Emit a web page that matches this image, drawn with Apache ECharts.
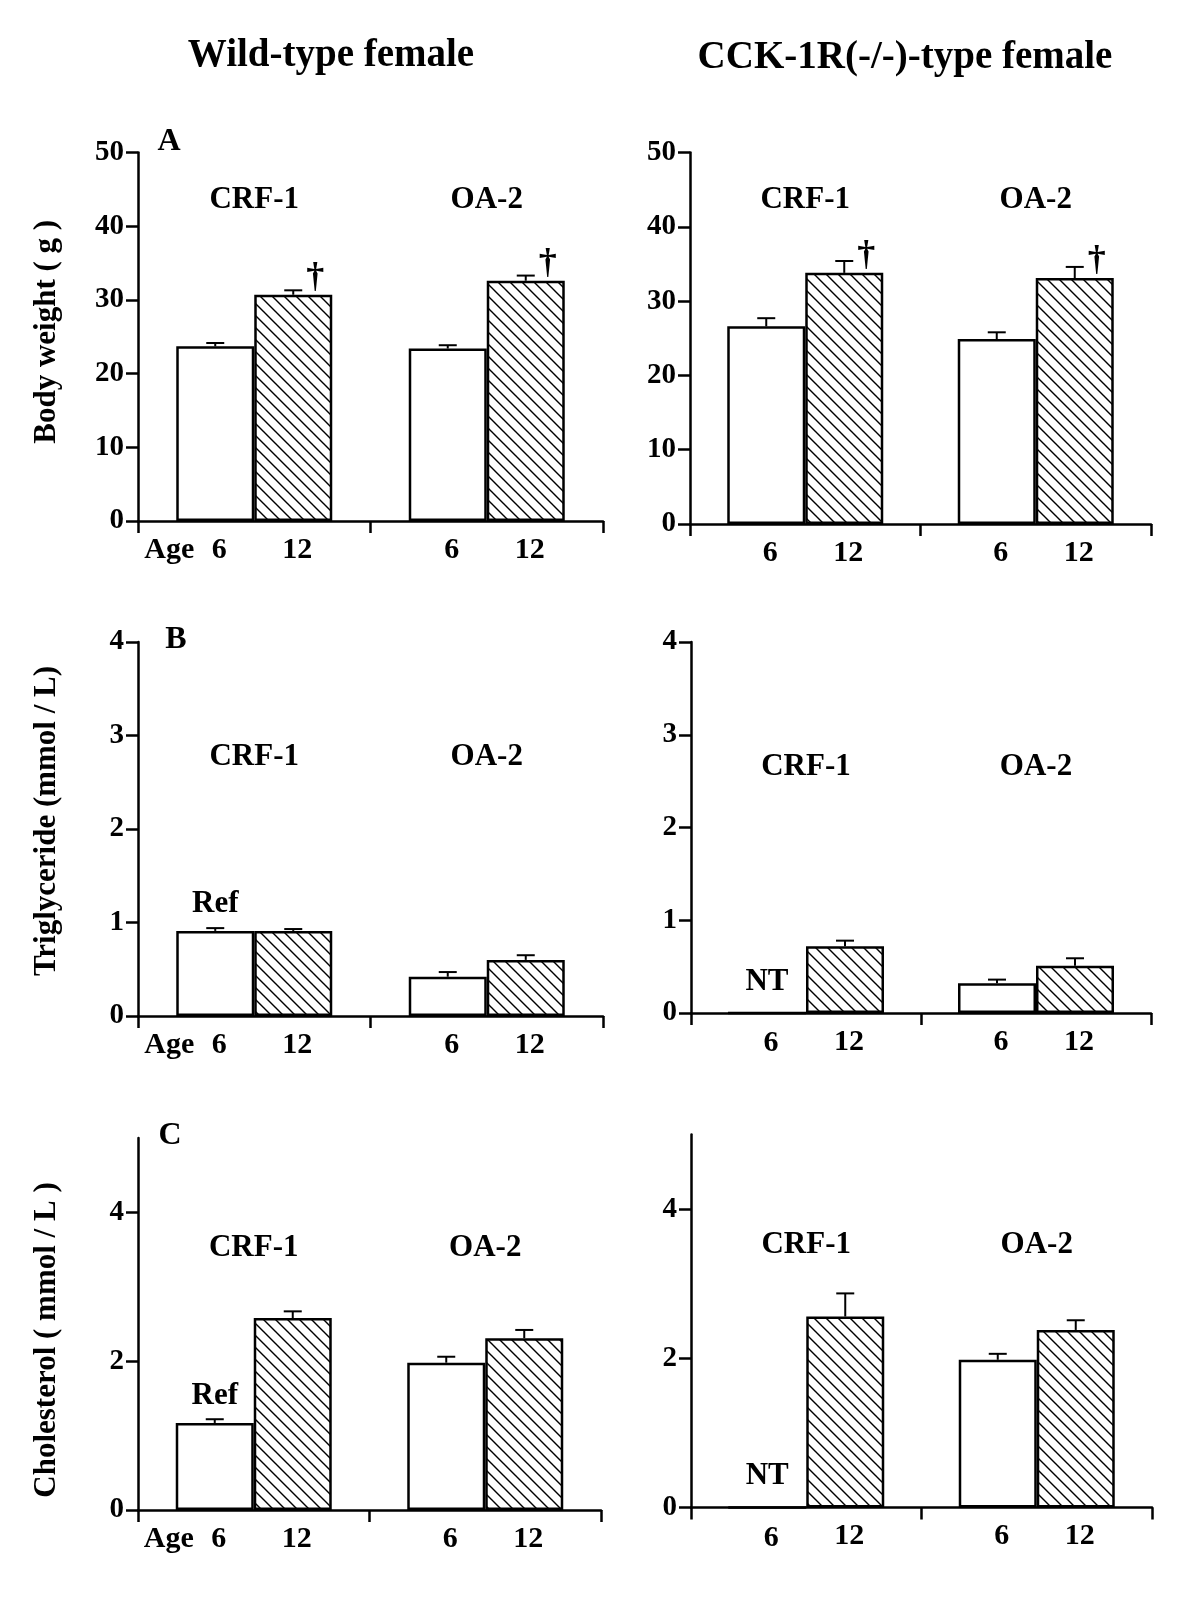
<!DOCTYPE html>
<html>
<head>
<meta charset="utf-8">
<script src="https://cdn.jsdelivr.net/npm/echarts@6/dist/echarts.min.js"></script>
<style>
html, body { margin: 0; padding: 0; background: #fff; }
#chart { width: 1200px; height: 1604px; }
</style>
</head>
<body>
<div id="chart"></div>
<script>
// groups on the x axis and the two ages (weeks) shown under the bars
const groups = ['CRF-1', 'OA-2'];
const ageLabels = ['6', '12'];

// A - body weight (g), mean and SEM
const bwWild6 = [23.7, 23.4];
const bwWild6Sem = [0.45, 0.45];
const bwWild12 = [30.7, 32.6];
const bwWild12Sem = [0.6, 0.7];
const bwKO6 = [26.6, 24.9];
const bwKO6Sem = [1.1, 0.9];
const bwKO12 = [33.8, 33.1];
const bwKO12Sem = [1.6, 1.5];

// B - triglyceride (mmol/L)
const tgWild6 = [0.91, 0.42];
const tgWild6Sem = [0.03, 0.05];
const tgWild12 = [0.91, 0.60];
const tgWild12Sem = [0.02, 0.05];
const tgKO6 = [0, 0.32];          // CRF-1 not tested
const tgKO6Sem = [0, 0.04];
const tgKO12 = [0.72, 0.51];
const tgKO12Sem = [0.06, 0.08];

// C - cholesterol (mmol/L)
const chWild6 = [1.17, 1.98];
const chWild6Sem = [0.05, 0.08];
const chWild12 = [2.58, 2.31];
const chWild12Sem = [0.09, 0.11];
const chKO6 = [0, 1.98];          // CRF-1 not tested
const chKO6Sem = [0, 0.08];
const chKO12 = [2.56, 2.38];
const chKO12Sem = [0.31, 0.13];

// notes over the bars
const noNotes = ['', ''];
const daggers = ['†', '†'];
const refNotes = ['Ref', ''];
const ntNotes = ['NT', ''];

// y tick values
const bwTicks = [0, 10, 20, 30, 40, 50];
const tgTicks = [0, 1, 2, 3, 4];
const chTicks = [0, 2, 4];

const FONT = '"Liberation Serif", "Times New Roman", serif';
const BAR_W = 78;

function hatch() {
  const n = 12;
  const c = document.createElement('canvas');
  c.width = n; c.height = n;
  const g = c.getContext('2d');
  g.fillStyle = '#fff';
  g.fillRect(0, 0, n, n);
  g.strokeStyle = '#000';
  g.lineWidth = 1.4;
  g.beginPath();
  g.moveTo(-2, -2); g.lineTo(n + 2, n + 2);
  g.moveTo(-n - 2, -2); g.lineTo(2, n + 2);
  g.moveTo(-2, -n - 2); g.lineTo(n + 2, 2);
  g.stroke();
  return c;
}
const hatchFill = { image: hatch(), repeat: 'repeat' };

const panels = [
  { grid: { left: 138, top: 152.5, width: 465, height: 368.5 }, max: 50, ticks: bwTicks,
    name: 'Body weight ( g )', namePad: [0, 0, 0, 10], age: true, catMargin: 306,
    v6: bwWild6, s6: bwWild6Sem, n6: noNotes, v12: bwWild12, s12: bwWild12Sem, n12: daggers },
  { grid: { left: 690, top: 152.5, width: 461, height: 371.5 }, max: 50, ticks: bwTicks,
    name: '', namePad: 0, age: false, catMargin: 309,
    v6: bwKO6, s6: bwKO6Sem, n6: noNotes, v12: bwKO12, s12: bwKO12Sem, n12: daggers },
  { grid: { left: 138, top: 642, width: 465, height: 374 }, max: 4, ticks: tgTicks,
    name: 'Triglyceride (mmol / L)', namePad: [0, 0, 0, 16], age: true, catMargin: 244,
    v6: tgWild6, s6: tgWild6Sem, n6: refNotes, v12: tgWild12, s12: tgWild12Sem, n12: noNotes },
  { grid: { left: 691, top: 642, width: 460, height: 371 }, max: 4, ticks: tgTicks,
    name: '', namePad: 0, age: false, catMargin: 231,
    v6: tgKO6, s6: tgKO6Sem, n6: ntNotes, v12: tgKO12, s12: tgKO12Sem, n12: noNotes },
  { grid: { left: 138, top: 1138, width: 463, height: 372 }, max: 5, ticks: chTicks,
    name: 'Cholesterol ( mmol / L )', namePad: [0, 32, 0, 0], age: true, catMargin: 247,
    v6: chWild6, s6: chWild6Sem, n6: refNotes, v12: chWild12, s12: chWild12Sem, n12: noNotes },
  { grid: { left: 691, top: 1134.5, width: 461, height: 373 }, max: 5, ticks: chTicks,
    name: '', namePad: 0, age: false, catMargin: 247,
    v6: chKO6, s6: chKO6Sem, n6: ntNotes, v12: chKO12, s12: chKO12Sem, n12: noNotes }
];

const txt = { fontFamily: FONT, fontWeight: 'bold', color: '#000' };
const axisLine = { show: true, lineStyle: { color: '#000', width: 2.5 } };

// error bars and notes, drawn at the centre of each bar
function errorRenderer(side, notes, showAge) {
  return function (params, api) {
    const cat = api.value(0), v = api.value(1), sem = api.value(2);
    const top = api.coord([cat, v]);
    const base = api.coord([cat, 0]);
    const x = top[0] + side * BAR_W / 2;
    const st = { stroke: '#000', lineWidth: 2 };
    const kids = [];
    if (sem > 0) {
      const e = api.coord([cat, v + sem]);
      kids.push({ type: 'line', shape: { x1: x, y1: top[1], x2: x, y2: e[1] }, style: st });
      kids.push({ type: 'line', shape: { x1: x - 9, y1: e[1], x2: x + 9, y2: e[1] }, style: st });
    }
    const note = notes[params.dataIndex];
    if (note === '†') {
      kids.push({ type: 'text', x: x + 22, y: top[1] + 1,
        style: { text: note, font: 'bold 36px ' + FONT, fill: '#000', align: 'center', verticalAlign: 'bottom' } });
    } else if (note) {
      kids.push({ type: 'text', x: x, y: top[1] - (note === 'NT' ? 16 : 11),
        style: { text: note, font: 'bold 31px ' + FONT, fill: '#000', align: 'center', verticalAlign: 'bottom' } });
    }
    if (showAge && params.dataIndex === 0) {
      kids.push({ type: 'text', x: x - 46, y: base[1] + 14,
        style: { text: 'Age', font: 'bold 30px ' + FONT, fill: '#000', align: 'center', verticalAlign: 'top' } });
    }
    return { type: 'group', children: kids };
  };
}

const grid = [], xAxis = [], yAxis = [], series = [];
panels.forEach((p, i) => {
  grid.push(p.grid);
  xAxis.push({
    type: 'category', gridIndex: i, data: groups,
    axisLine: axisLine,
    axisTick: { show: true, length: 12, lineStyle: { color: '#000', width: 2.5 } },
    axisLabel: Object.assign({ inside: true, margin: p.catMargin, fontSize: 31, interval: 0 }, txt)
  });
  yAxis.push({
    type: 'value', gridIndex: i, min: 0, max: p.max, interval: 1,
    name: p.name, nameLocation: 'middle', nameGap: 76,
    nameTextStyle: Object.assign({ fontSize: 31, padding: p.namePad }, txt),
    axisLine: axisLine,
    axisTick: { show: true, length: 12, customValues: p.ticks, lineStyle: { color: '#000', width: 2.5 } },
    axisLabel: Object.assign({ fontSize: 29, margin: 14, customValues: p.ticks }, txt),
    splitLine: { show: false }
  });
  const pairs = [[p.v6, p.s6, p.n6, '#fff', -1], [p.v12, p.s12, p.n12, hatchFill, 1]];
  pairs.forEach(([vals, sems, notes, fill, side], k) => {
    series.push({
      type: 'bar', xAxisIndex: i, yAxisIndex: i, data: vals,
      barWidth: BAR_W, barGap: '0%', silent: true,
      itemStyle: { color: fill, borderColor: '#000', borderWidth: 2.5 },
      label: Object.assign({ show: true, position: 'bottom', distance: 14, offset: [4, 0],
        formatter: ageLabels[k], fontSize: 30 }, txt)
    });
  });
  pairs.forEach(([vals, sems, notes, fill, side], k) => {
    series.push({
      type: 'custom', xAxisIndex: i, yAxisIndex: i, silent: true, z: 5,
      data: groups.map((g, j) => [j, vals[j], sems[j]]),
      renderItem: errorRenderer(side, notes, p.age && k === 0)
    });
  });
});

const chart = echarts.init(document.getElementById('chart'));
chart.setOption({
  backgroundColor: '#fff',
  animation: false,
  grid: grid,
  xAxis: xAxis,
  yAxis: yAxis,
  series: series,
  graphic: [
    { type: 'text', x: 331, y: 56, style: { text: 'Wild-type female', font: 'bold 39px ' + FONT, fill: '#000', align: 'center', verticalAlign: 'middle' } },
    { type: 'text', x: 905, y: 58, style: { text: 'CCK-1R(-/-)-type female', font: 'bold 39px ' + FONT, fill: '#000', align: 'center', verticalAlign: 'middle' } },
    { type: 'text', x: 169, y: 142, style: { text: 'A', font: 'bold 32px ' + FONT, fill: '#000', align: 'center', verticalAlign: 'middle' } },
    { type: 'text', x: 176, y: 640, style: { text: 'B', font: 'bold 32px ' + FONT, fill: '#000', align: 'center', verticalAlign: 'middle' } },
    { type: 'text', x: 170, y: 1136, style: { text: 'C', font: 'bold 32px ' + FONT, fill: '#000', align: 'center', verticalAlign: 'middle' } }
  ]
});
</script>
</body>
</html>
